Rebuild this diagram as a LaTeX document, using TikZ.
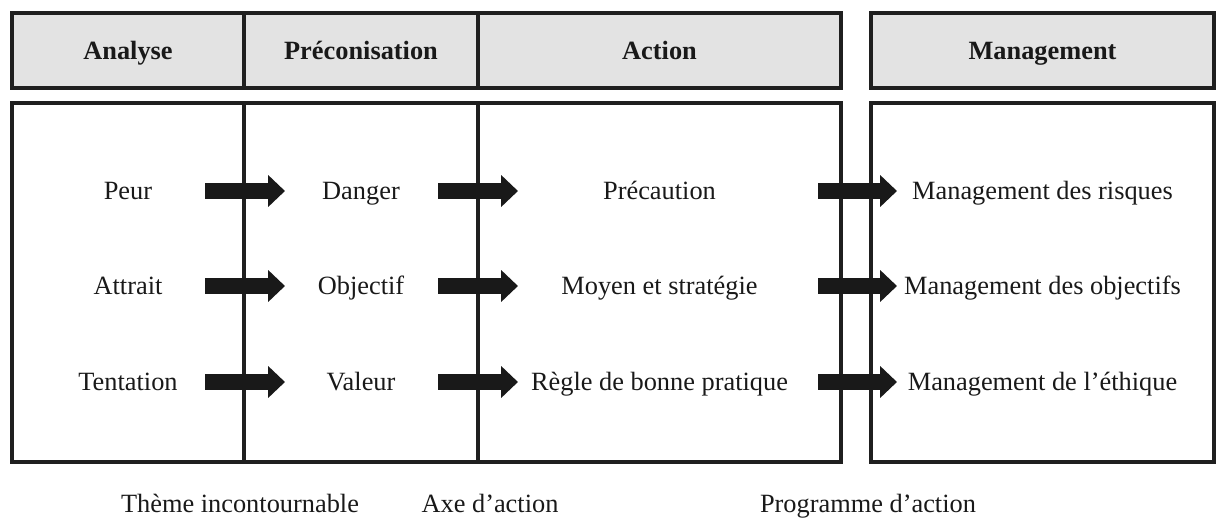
\documentclass[tikz,border=0pt]{standalone}
\usepackage{fontspec}
\setmainfont{Liberation Serif}
\usetikzlibrary{arrows.meta}

\begin{document}
\begin{tikzpicture}[
    headcell/.style={draw=black!88,fill=gray!22,line width=2pt,minimum height=1.5cm,
      outer sep=0pt,font=\fontsize{15}{18}\selectfont\bfseries,text=black!90,
      text height=10pt,text depth=0pt},
    cell/.style={draw=black!88,line width=1.8pt,minimum height=7.18cm,outer sep=0pt},
    txt/.style={font=\fontsize{15}{18}\selectfont,text=black!90,inner sep=0pt,
      text height=10pt,text depth=0pt},
    bigarrow/.style={draw=black!90,line width=9.6pt,
      -{Triangle[length=9.6pt 0,width=17.6pt 0]}}
  ]
  \useasboundingbox (0,0) rectangle (24.32,10.38);

  \node[headcell,minimum width=4.64cm] (hAna) at (2.56,9.37) {Analyse};
  \node[headcell,minimum width=4.68cm] (hPre) at (7.22,9.37) {Préconisation};
  \node[headcell,minimum width=7.26cm] (hAct) at (13.19,9.37) {Action};
  \node[headcell,minimum width=6.86cm] (hMan) at (20.85,9.37) {Management};

  \node[cell,minimum width=4.64cm] (cAna) at (2.56,4.73) {};
  \node[cell,minimum width=4.68cm] (cPre) at (7.22,4.73) {};
  \node[cell,minimum width=7.26cm] (cAct) at (13.19,4.73) {};
  \node[cell,minimum width=6.86cm] (cMan) at (20.85,4.73) {};

  \node[txt] (peur) at (2.56,6.56) {Peur};
  \node[txt] (attrait) at (2.56,4.66) {Attrait};
  \node[txt] (tentation) at (2.56,2.74) {Tentation};

  \node[txt] (danger) at (7.22,6.56) {Danger};
  \node[txt] (objectif) at (7.22,4.66) {Objectif};
  \node[txt] (valeur) at (7.22,2.74) {Valeur};

  \node[txt] (precaution) at (13.19,6.56) {Précaution};
  \node[txt] (moyen) at (13.19,4.66) {Moyen et stratégie};
  \node[txt] (regle) at (13.19,2.74) {Règle de bonne pratique};

  \node[txt] (mRisques) at (20.85,6.56) {Management des risques};
  \node[txt] (mObjectifs) at (20.85,4.66) {Management des objectifs};
  \node[txt] (mEthique) at (20.85,2.74) {Management de l’éthique};

  \foreach \r/\y in {1/6.56,2/4.66,3/2.74} {
    \coordinate (a\r) at (4.10,\y);  \coordinate (b\r) at (5.70,\y);
    \coordinate (c\r) at (8.76,\y);  \coordinate (d\r) at (10.36,\y);
    \coordinate (e\r) at (16.36,\y); \coordinate (f\r) at (17.94,\y);
    \draw[bigarrow] (a\r) -- (b\r);
    \draw[bigarrow] (c\r) -- (d\r);
    \draw[bigarrow] (e\r) -- (f\r);
  }

  \node[txt] (theme) at (4.80,0.30) {Thème incontournable};
  \node[txt] (axe) at (9.80,0.30) {Axe d’action};
  \node[txt] (programme) at (17.36,0.30) {Programme d’action};
\end{tikzpicture}
\end{document}
